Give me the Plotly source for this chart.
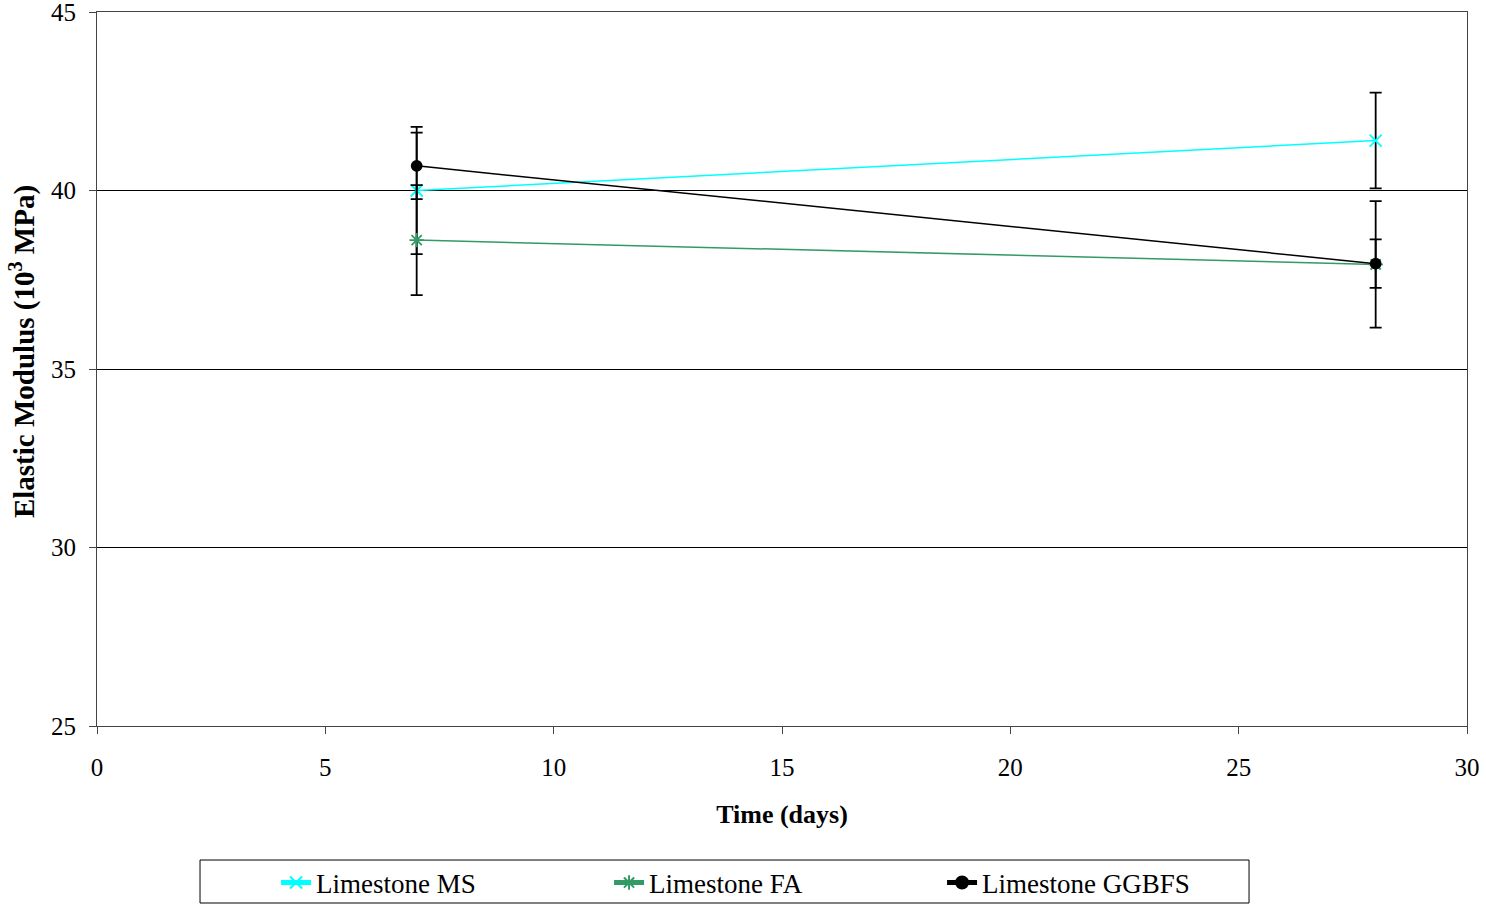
import plotly.graph_objects as go

# Curing age (days)
days = [7, 28]

# Elastic modulus (10^3 MPa) and standard deviation per mix
ms_mean = [40.00, 41.40]
ms_sd = [1.78, 1.34]

fa_mean = [38.61, 37.93]
fa_sd = [1.54, 1.77]

ggbfs_mean = [40.69, 37.95]
ggbfs_sd = [0.93, 0.68]

series = [
    ("Limestone MS", ms_mean, ms_sd, "#00FFFF", "x-thin-open", 12),
    ("Limestone FA", fa_mean, fa_sd, "#339966", "asterisk-open", 12),
    ("Limestone GGBFS", ggbfs_mean, ggbfs_sd, "#000000", "circle", 10),
]

font_family = "Liberation Serif, Times New Roman, serif"

fig = go.Figure()
for name, y, sd, color, symbol, size in series:
    fig.add_trace(go.Scatter(
        x=days, y=y, name=name, mode="lines+markers",
        line=dict(color=color, width=1.5),
        marker=dict(symbol=symbol, size=size, color=color,
                    line=dict(color=color, width=1.8)),
        error_y=dict(type="data", array=sd, visible=True,
                     color="black", thickness=1.8, width=6),
    ))

# Legend frame (paper coordinates)
fig.add_shape(type="rect", xref="paper", yref="paper",
              x0=0.0752, x1=0.8409, y0=-0.1877, y1=-0.2479,
              line=dict(color="black", width=1), fillcolor="rgba(0,0,0,0)")

# Y-axis title
fig.add_annotation(
    text="<b>Elastic Modulus (10<sup>3</sup> MPa)</b>",
    xref="paper", yref="paper", x=-0.0547, y=0.5238,
    xanchor="center", yanchor="middle", textangle=-90, showarrow=False,
    font=dict(family=font_family, size=29, color="black"),
)

fig.update_layout(
    width=1486, height=905,
    margin=dict(l=97, r=19, t=12, b=179),
    paper_bgcolor="white", plot_bgcolor="white",
    font=dict(family=font_family, size=25, color="black"),
    showlegend=True,
    legend=dict(
        orientation="h", xref="paper", x=0.1307, xanchor="left",
        yref="container", y=1 - 883 / 905, yanchor="middle",
        borderwidth=0, bgcolor="rgba(0,0,0,0)",
        font=dict(family=font_family, size=27),
        entrywidth=288, entrywidthmode="pixels",
        itemsizing="constant",
    ),
    xaxis=dict(
        range=[0, 30], tickvals=[0, 5, 10, 15, 20, 25, 30],
        showgrid=False, zeroline=False, automargin=False,
        showline=True, linecolor="#444", linewidth=1, mirror=True,
        ticks="outside", ticklen=7, tickcolor="#444", ticklabelstandoff=12,
        ticklabeloverflow="allow",
        title=dict(text="<b>Time (days)</b>", font=dict(size=26), standoff=24),
    ),
    yaxis=dict(
        range=[25, 45], tickvals=[25, 30, 35, 40, 45],
        showgrid=True, gridcolor="black", gridwidth=1, zeroline=False,
        automargin=False,
        showline=True, linecolor="#444", linewidth=1, mirror=True,
        ticks="outside", ticklen=7, tickcolor="#444", ticklabelstandoff=8,
        ticklabeloverflow="allow",
    ),
)

fig.write_html("out.html")
